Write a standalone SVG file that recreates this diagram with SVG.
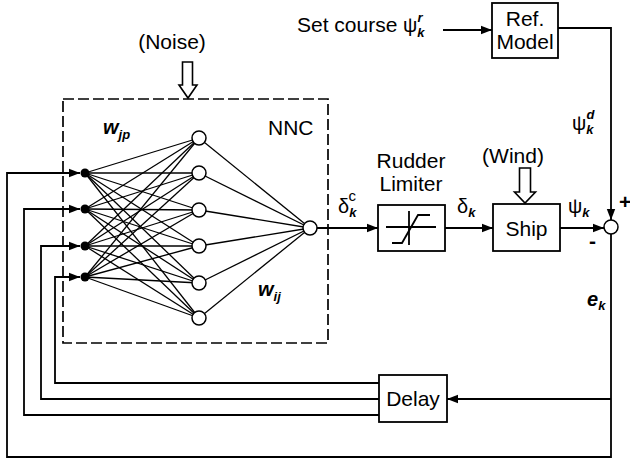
<svg xmlns="http://www.w3.org/2000/svg" width="630" height="461" viewBox="0 0 630 461">
<style>
text{font-family:"Liberation Sans",Arial,sans-serif;fill:#000}
.t{font-size:21px}
.m{font-size:20px}
.bi{font-weight:bold;font-style:italic}
.s{font-size:13px;font-weight:bold;font-style:italic}
.ln{fill:none;stroke:#000;stroke-width:1.8}
.box{fill:#fff;stroke:#000;stroke-width:1.8}
.node{fill:#fff;stroke:#000;stroke-width:1.5}
.w{stroke:#000;stroke-width:1.3}
.dash{fill:none;stroke:#000;stroke-width:1.7;stroke-dasharray:11 4}
.hollow{fill:#fff;stroke:#000;stroke-width:1.6}
</style>
<defs>
<marker id="ah" markerUnits="userSpaceOnUse" markerWidth="12" markerHeight="10" refX="11" refY="5" orient="auto">
<path d="M0,0.8 L11,5 L0,9.2 z" fill="#000"/>
</marker>
</defs>

<g id="nnc">
<rect class="dash" x="63" y="99" width="265" height="244"/>
<text class="t" x="268" y="135">NNC</text>
<text class="m bi" x="103" y="134">w<tspan class="s" dy="5">jp</tspan></text>
<text class="m bi" x="258" y="296">w<tspan class="s" dy="5">ij</tspan></text>
<g id="weights-in">
<line class="w" x1="85" y1="173" x2="199" y2="138"/><line class="w" x1="85" y1="173" x2="199" y2="173"/><line class="w" x1="85" y1="173" x2="199" y2="210"/><line class="w" x1="85" y1="173" x2="199" y2="246"/><line class="w" x1="85" y1="173" x2="199" y2="283"/><line class="w" x1="85" y1="173" x2="199" y2="318"/>
<line class="w" x1="85" y1="209" x2="199" y2="138"/><line class="w" x1="85" y1="209" x2="199" y2="173"/><line class="w" x1="85" y1="209" x2="199" y2="210"/><line class="w" x1="85" y1="209" x2="199" y2="246"/><line class="w" x1="85" y1="209" x2="199" y2="283"/><line class="w" x1="85" y1="209" x2="199" y2="318"/>
<line class="w" x1="85" y1="246" x2="199" y2="138"/><line class="w" x1="85" y1="246" x2="199" y2="173"/><line class="w" x1="85" y1="246" x2="199" y2="210"/><line class="w" x1="85" y1="246" x2="199" y2="246"/><line class="w" x1="85" y1="246" x2="199" y2="283"/><line class="w" x1="85" y1="246" x2="199" y2="318"/>
<line class="w" x1="85" y1="277" x2="199" y2="138"/><line class="w" x1="85" y1="277" x2="199" y2="173"/><line class="w" x1="85" y1="277" x2="199" y2="210"/><line class="w" x1="85" y1="277" x2="199" y2="246"/><line class="w" x1="85" y1="277" x2="199" y2="283"/><line class="w" x1="85" y1="277" x2="199" y2="318"/>
</g>
<g id="weights-out">
<line class="w" x1="199" y1="138" x2="310" y2="228"/><line class="w" x1="199" y1="173" x2="310" y2="228"/><line class="w" x1="199" y1="210" x2="310" y2="228"/><line class="w" x1="199" y1="246" x2="310" y2="228"/><line class="w" x1="199" y1="283" x2="310" y2="228"/><line class="w" x1="199" y1="318" x2="310" y2="228"/>
</g>
<g id="input-nodes">
<circle cx="85" cy="173" r="4.5"/><circle cx="85" cy="209" r="4.5"/><circle cx="85" cy="246" r="4.5"/><circle cx="85" cy="277" r="4.5"/>
</g>
<g id="hidden-nodes">
<circle class="node" cx="199" cy="138" r="7"/><circle class="node" cx="199" cy="173" r="7"/><circle class="node" cx="199" cy="210" r="7"/><circle class="node" cx="199" cy="246" r="7"/><circle class="node" cx="199" cy="283" r="7"/><circle class="node" cx="199" cy="318" r="7"/>
</g>
<circle id="output-node" class="node" cx="310" cy="228" r="7"/>
</g>

<g id="noise">
<text class="t" x="172" y="49" text-anchor="middle">(Noise)</text>
<polygon class="hollow" points="182.5,62 192.5,62 192.5,85 197,85 188,98 179,85 182.5,85"/>
</g>

<g id="limiter">
<text class="t" x="411" y="168" text-anchor="middle">Rudder</text>
<text class="t" x="411" y="191" text-anchor="middle">Limiter</text>
<rect class="box" x="378" y="205" width="67" height="46"/>
<path class="ln" d="M386,227 H436 M409,211 V245" stroke-width="1.4"/>
<path class="ln" d="M392,243 H402 L418,215 H430" stroke-width="1.4"/>
</g>

<g id="ship">
<text class="t" x="513" y="163" text-anchor="middle">(Wind)</text>
<rect class="box" x="493" y="204" width="67" height="47"/>
<text class="t" x="526.5" y="236" text-anchor="middle">Ship</text>
<polygon class="hollow" points="519.5,168 530.5,168 530.5,192 535.5,192 525,203 514.5,192 519.5,192"/>
</g>

<g id="refmodel">
<text class="t" x="297" y="32">Set course</text>
<text class="m" x="403" y="32">ψ<tspan class="s" dy="5">k</tspan><tspan class="s" dx="-7" dy="-15">r</tspan></text>
<rect class="box" x="492" y="3" width="66" height="55"/>
<text class="t" x="525" y="26" text-anchor="middle">Ref.</text>
<text class="t" x="525" y="49" text-anchor="middle">Model</text>
</g>

<g id="junction">
<circle class="node" cx="611" cy="227" r="7"/>
<text class="t" x="619" y="209" style="font-weight:bold">+</text>
<text class="t" x="589" y="248" style="font-weight:bold">-</text>
</g>

<g id="delay">
<rect class="box" x="379" y="375" width="68" height="47"/>
<text class="t" x="413" y="406" text-anchor="middle">Delay</text>
</g>

<g id="labels">
<text class="m" x="338" y="213">δ<tspan class="s" dy="4">k</tspan><tspan class="s" dx="-8" dy="-16" style="font-style:normal;font-weight:normal;font-size:15px">c</tspan></text>
<text class="m" x="457" y="213">δ<tspan class="s" dy="4">k</tspan></text>
<text class="m" x="568" y="213">ψ<tspan class="s" dy="4">k</tspan></text>
<text class="m" x="572" y="130">ψ<tspan class="s" dy="4">k</tspan><tspan class="s" dx="-7" dy="-15">d</tspan></text>
<text class="m bi" x="587" y="306">e<tspan class="s" dy="4">k</tspan></text>
</g>

<g id="connectors">
<path class="ln" d="M443,30 H492" marker-end="url(#ah)"/>
<path class="ln" d="M558,28 H611 V220" marker-end="url(#ah)"/>
<path class="ln" d="M317,228 H378" marker-end="url(#ah)"/>
<path class="ln" d="M445,228 H493" marker-end="url(#ah)"/>
<path class="ln" d="M560,228 H604" marker-end="url(#ah)"/>
<path class="ln" d="M611,234 V457 H7 V173 H80" marker-end="url(#ah)"/>
<path class="ln" d="M611,399 H447" marker-end="url(#ah)"/>
<path class="ln" d="M379,383 H55 V277 H80" marker-end="url(#ah)"/>
<path class="ln" d="M379,399 H41 V246 H80" marker-end="url(#ah)"/>
<path class="ln" d="M379,415 H24 V209 H80" marker-end="url(#ah)"/>
</g>
</svg>
